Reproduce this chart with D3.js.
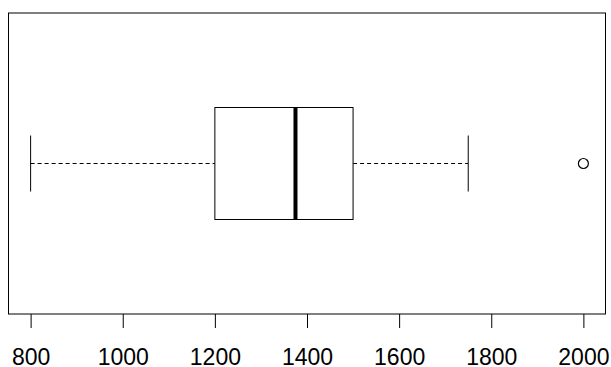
<!DOCTYPE html>
<html>
<head>
<meta charset="utf-8">
<script src="https://cdn.jsdelivr.net/npm/d3@7"></script>
<style>
  body { margin: 0; background: #fff; }
  svg { display: block; }
</style>
</head>
<body>
<script>
// five-number summary, plus the single outlier
var stats = [
  {name: 'min', value: 800},
  {name: 'q1', value: 1200},
  {name: 'median', value: 1375},
  {name: 'q3', value: 1500},
  {name: 'max', value: 1750}
];
var outliers = [2000];
var ticks = [800, 1000, 1200, 1400, 1600, 1800, 2000];

var W = 611, H = 367;
var margin = {top: 13, right: 5.5, bottom: 53, left: 8.5};

var svg = d3.select('body')
  .append('svg')
  .attr('width', W)
  .attr('height', H)

var s = {};
stats.forEach(d => s[d.name] = d.value);

// R pads the data range by 4% on each side
var lo = d3.min([s.min].concat(outliers)), hi = d3.max([s.max].concat(outliers));
var pad = (hi - lo) * 0.04;
var x = d3.scaleLinear()
  .domain([lo - pad, hi + pad])
  .range([margin.left, W - margin.right]);

var y = d3.scaleLinear()
  .domain([0, 1])
  .range([H - margin.bottom, margin.top]);

var cy = y(0.5);
var boxH = 112, capH = 56;

// plot frame
svg.append('rect')
  .attr('x', margin.left)
  .attr('y', margin.top)
  .attr('width', W - margin.left - margin.right)
  .attr('height', H - margin.top - margin.bottom)
  .attr('fill', 'none')
  .attr('stroke', 'black')
  .attr('stroke-width', 1)

let g = svg.append('g')

// whiskers (dashed)
g.selectAll('line.whisker')
  .data([[s.min, s.q1], [s.q3, s.max]])
  .enter()
    .append('line')
    .attr('class', 'whisker')
    .attr('x1', d => x(d[0]))
    .attr('x2', d => x(d[1]))
    .attr('y1', cy)
    .attr('y2', cy)
    .attr('stroke', 'black')
    .attr('stroke-dasharray', '4,3')

// whisker caps
g.selectAll('line.cap')
  .data([s.min, s.max])
  .enter()
    .append('line')
    .attr('class', 'cap')
    .attr('x1', d => x(d))
    .attr('x2', d => x(d))
    .attr('y1', cy - capH / 2)
    .attr('y2', cy + capH / 2)
    .attr('stroke', 'black')

// box
g.append('rect')
  .attr('x', x(s.q1))
  .attr('y', cy - boxH / 2)
  .attr('width', x(s.q3) - x(s.q1))
  .attr('height', boxH)
  .attr('fill', 'white')
  .attr('stroke', 'black')

// median
g.append('line')
  .attr('x1', x(s.median))
  .attr('x2', x(s.median))
  .attr('y1', cy - boxH / 2)
  .attr('y2', cy + boxH / 2)
  .attr('stroke', 'black')
  .attr('stroke-width', 4)

// outliers
g.selectAll('circle')
  .data(outliers)
  .enter()
    .append('circle')
    .attr('cx', d => x(d))
    .attr('cy', cy)
    .attr('r', 5)
    .attr('fill', 'none')
    .attr('stroke', 'black')
    .attr('stroke-width', 1.2)

function xAxis(g) {
  g.attr('transform', `translate(0,${H - margin.bottom})`)
   .call(d3.axisBottom(x).tickValues(ticks).tickSize(14).tickPadding(21).tickFormat(d3.format('d')))
   .call(g => g.select('.domain').remove())
   .attr('font-size', '23px')
   .attr('font-family', 'Liberation Sans, Arial, sans-serif')
  g.selectAll('line').attr('stroke', 'black')
  g.selectAll('text').attr('fill', 'black')
}
svg.append('g').call(xAxis);
</script>
</body>
</html>
